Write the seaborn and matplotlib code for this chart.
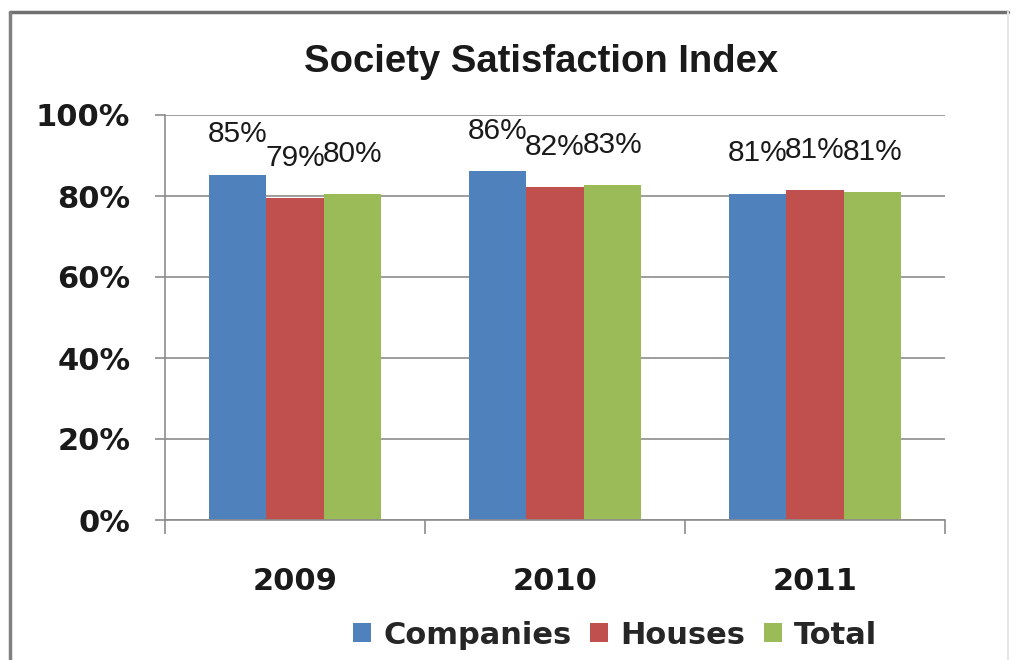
import matplotlib
matplotlib.use("Agg")
import matplotlib.pyplot as plt
from matplotlib.lines import Line2D
from matplotlib.patches import Patch
from matplotlib.ticker import FixedLocator, PercentFormatter
import seaborn as sns
import pandas as pd

# Survey results (share satisfied, %)
years = ["2009", "2010", "2011"]
series = ["Companies", "Houses", "Total"]
companies = [85.3, 86.2, 80.6]
houses = [79.4, 82.1, 81.4]
total = [80.4, 82.7, 81.0]
yticks = [0, 20, 40, 60, 80, 100]

colors = {"Companies": "#4F81BD", "Houses": "#C0504D", "Total": "#9BBB59"}

df = pd.DataFrame({
    "year": years * 3,
    "series": [s for s in series for _ in years],
    "value": companies + houses + total,
})

sns.set_theme(style="white")
plt.rcParams["font.family"] = ["DejaVu Sans"]

fig = plt.figure(figsize=(10.16, 6.6), dpi=100)
ax = fig.add_axes([165 / 1016, 1 - 520 / 660, 780 / 1016, 405 / 660])

sns.barplot(data=df, x="year", y="value", hue="series", hue_order=series,
            order=years, palette=colors, width=0.66, gap=0, saturation=1,
            edgecolor="none", linewidth=0, legend=False, ax=ax)

ax.set_xlim(-0.5, 2.5)
ax.set_ylim(0, 100)
ax.set_xlabel("")
ax.set_ylabel("")

# horizontal gridlines
ax.yaxis.set_major_locator(FixedLocator(yticks))
ax.yaxis.set_major_formatter(PercentFormatter(decimals=0))
ax.grid(axis="y", color="#8c8c8c", linewidth=1.2)
ax.set_axisbelow(True)

for side in ("top", "right"):
    ax.spines[side].set_visible(False)
for side in ("left", "bottom"):
    ax.spines[side].set_color("#8c8c8c")
    ax.spines[side].set_linewidth(1.2)

ax.tick_params(axis="y", which="major", direction="out", length=7, width=1.2,
               color="#8c8c8c", pad=18, labelsize=22, left=True)
for t in ax.get_yticklabels():
    t.set_fontweight("bold")
    t.set_color("#1a1a1a")

# category boundaries as major ticks, year labels on minor ticks
ax.set_xticks([-0.5, 0.5, 1.5, 2.5])
ax.set_xticklabels([])
ax.set_xticks([0, 1, 2], minor=True)
ax.set_xticklabels(years, minor=True)
ax.tick_params(axis="x", which="major", direction="out", length=10, width=1.2,
               color="#8c8c8c", bottom=True)
ax.tick_params(axis="x", which="minor", length=0, pad=34, labelsize=22)
for t in ax.get_xticklabels(minor=True):
    t.set_fontweight("bold")
    t.set_color("#1a1a1a")

# value labels above each bar
for container in ax.containers:
    vals = [b.get_height() for b in container]
    ax.bar_label(container, labels=[f"{v:.0f}%" for v in vals], padding=19,
                 fontsize=21.5, family=["Liberation Sans", "DejaVu Sans"],
                 color="#1a1a1a")

# title
fig.text(541 / 1016, 1 - 62 / 660, "Society Satisfaction Index",
         ha="center", va="center", fontsize=27.5, fontweight="bold",
         family=["Liberation Sans", "DejaVu Sans"], color="#1a1a1a")

# legend
handles = [Patch(facecolor=colors[s], edgecolor="none") for s in series]
fig.legend(handles, series, loc="center", bbox_to_anchor=(615 / 1016, 1 - 635 / 660),
           ncol=3, frameon=False, handlelength=0.6, handleheight=0.6,
           handletextpad=0.4, columnspacing=0.6,
           prop={"weight": "bold", "size": 22})

# chart frame
fig.add_artist(Line2D([10 / 1016, 1008 / 1016], [1 - 12 / 660, 1 - 12 / 660],
                      transform=fig.transFigure, color="#707070", linewidth=2.5))
fig.add_artist(Line2D([10 / 1016, 10 / 1016], [0, 1 - 12 / 660],
                      transform=fig.transFigure, color="#808080", linewidth=2.5))
fig.add_artist(Line2D([1008 / 1016, 1008 / 1016], [0, 1 - 12 / 660],
                      transform=fig.transFigure, color="#e6e6e6", linewidth=1.5))

fig.savefig("out.png", dpi=100)
